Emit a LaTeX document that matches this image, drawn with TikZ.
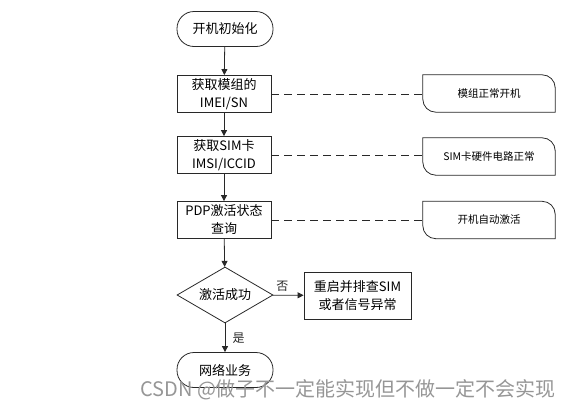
\documentclass[tikz,border=0pt]{standalone}
\usepackage{fontspec}
\setmainfont{Noto Sans CJK SC}
\usetikzlibrary{arrows.meta,shapes.geometric}
\definecolor{lineclr}{RGB}{40,40,40}
\definecolor{markclr}{RGB}{150,150,150}
\tikzset{flow/.style={-{Triangle[length=6pt,width=6pt]},line width=.8pt,lineclr},
 dashlink/.style={line width=.8pt,lineclr,dash pattern=on 8pt off 5pt},
 procbox/.style={draw=lineclr,line width=.8pt,minimum width=94pt,minimum height=37pt,
  align=center,inner sep=1pt,font=\fontsize{13}{18}\selectfont},
 termbox/.style={procbox,rounded corners=17pt,minimum width=96pt,minimum height=35pt},
 decbox/.style={procbox,diamond,aspect=1.7,minimum width=96pt,minimum height=56pt},
 notebox/.style={minimum width=132pt,minimum height=37pt,inner sep=0pt,
  font=\fontsize{10.5}{13}\selectfont}}

\begin{document}
\begin{tikzpicture}[x=1pt,y=1pt]
\useasboundingbox (0,0) rectangle (567,-410);
\node[termbox] (start) at (225,-29) {开机初始化};
\node[procbox] (imei) at (224,-94) {获取模组的\\IMEI/SN};
\node[procbox] (sim) at (224,-155) {获取SIM卡\\IMSI/ICCID};
\node[procbox] (pdp) at (224,-220) {PDP激活状态\\查询};
\node[decbox] (ok) at (225,-295) {激活成功};
\node[procbox,minimum width=107pt,minimum height=47pt] (retry) at (357.5,-295.5)
 {重启并排查SIM\\或者信号异常};
\node[termbox] (net) at (225,-370) {网络业务};
\draw[flow] (start) -- (imei);
\draw[flow] (imei) -- (sim);
\draw[flow] (sim) -- (pdp);
\draw[flow] (pdp) -- (ok);
\draw[flow] (ok) -- (retry) node[pos=.3,above,font=\fontsize{12}{14}\selectfont] {否};
\draw[flow] (ok) -- (net) node[midway,right,xshift=4pt,font=\fontsize{12}{14}\selectfont] {是};
% notes on the right
\foreach \n/\src/\y/\txt in {nmod/imei/93.5/模组正常开机,nsim/sim/156.5/SIM卡硬件电路正常,
 npdp/pdp/220/开机自动激活} {
 \node[notebox] (\n) at (489,-\y) {\txt};
 \draw[line width=.8pt,lineclr] (\n.north west) -- ([xshift=-13pt]\n.north east)
  arc[start angle=90,end angle=0,radius=13pt] -- (\n.south east)
  -- ([xshift=13pt]\n.south west) arc[start angle=270,end angle=180,radius=13pt] -- cycle;
 \draw[dashlink] (\src.east) -- (\src.east -| \n.west);
}
\node[anchor=west,text=markclr,font=\fontsize{20}{22}\selectfont,inner sep=0pt] (mark)
 at (140,-390) {CSDN @做子不一定能实现但不做一定不会实现};
\end{tikzpicture}
\end{document}
